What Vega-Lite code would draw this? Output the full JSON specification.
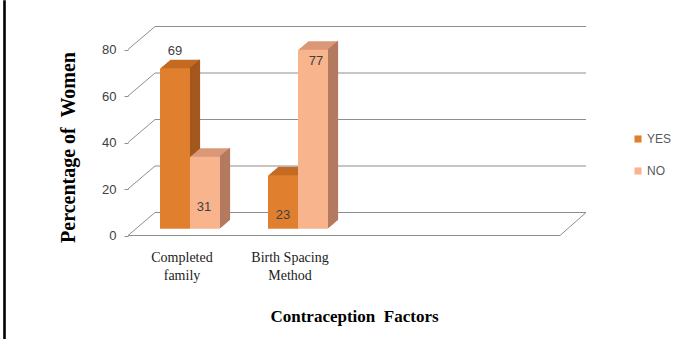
{
  "$schema": "https://vega.github.io/schema/vega-lite/v6.json",
  "padding": {"left": 3, "top": 0, "right": 0, "bottom": 0},
  "background": "white",
  "bounds": "flush",
  "spacing": 123,
  "config": {"view": {"stroke": null}},
  "datasets": {
    "bars": [
      {"factor": "Completed family", "response": "YES", "value": 69},
      {"factor": "Completed family", "response": "NO", "value": 31},
      {"factor": "Birth Spacing Method", "response": "YES", "value": 23},
      {"factor": "Birth Spacing Method", "response": "NO", "value": 77}
    ],
    "ticks": [{"value": 0}, {"value": 20}, {"value": 40}, {"value": 60}, {"value": 80}]
  },
  "hconcat": [
    {
      "width": 1,
      "height": 339,
      "view": {"stroke": "#000000", "strokeWidth": 1.6},
      "data": {"values": []},
      "mark": {"type": "point", "opacity": 0},
      "encoding": {}
    },
    {
      "width": 432,
      "height": 234,
      "data": {"name": "bars"},
      "encoding": {
        "x": {
          "field": "factor",
          "type": "nominal",
          "scale": {"domain": ["Completed family", "Birth Spacing Method"], "paddingInner": 0, "paddingOuter": 1, "align": 0},
          "axis": {
            "title": "Contraception\u00a0 Factors",
            "titleFont": "Liberation Serif",
            "titleFontSize": 17,
            "titleFontWeight": "bold",
            "titleColor": "#000000",
            "titleX": 226,
            "titleY": 81,
            "titleBaseline": "middle",
            "labelFont": "Liberation Serif",
            "labelFontSize": 14,
            "labelColor": "#222222",
            "labelAngle": 0,
            "labelPadding": 15,
            "labelBaseline": "top",
            "labelLineHeight": 18,
            "labelExpr": "datum.value == 'Completed family' ? ['Completed', 'family'] : ['Birth Spacing', 'Method']",
            "domain": false,
            "ticks": false,
            "grid": false
          }
        },
        "y": {
          "field": "value",
          "type": "quantitative",
          "scale": {"domain": [0, 80], "range": [234.5, 48.5], "nice": false, "zero": true},
          "axis": {
            "title": "Percentage of\u00a0 Women",
            "titleFont": "Liberation Serif",
            "titleFontSize": 20,
            "titleFontWeight": "bold",
            "titleColor": "#000000",
            "titleX": -60,
            "titleY": 146,
            "titleBaseline": "middle",
            "values": [0, 20, 40, 60, 80],
            "labelFont": "Liberation Sans",
            "labelFontSize": 13,
            "labelColor": "#404040",
            "labelPadding": 8,
            "tickSize": 4,
            "tickColor": "#8e8e8e",
            "domain": false,
            "grid": false
          }
        }
      },
      "layer": [
        {"data": {"name": "ticks"}, "mark": {"type": "rule", "color": "#8e8e8e", "strokeWidth": 1, "xOffset": -27, "x2Offset": 404, "yOffset": -23}, "encoding": {"x": {"datum": "Completed family"}, "x2": {"datum": "Completed family"}}},
        {"data": {"name": "ticks"}, "mark": {"type": "rule", "color": "#8e8e8e", "strokeWidth": 1, "xOffset": -54, "x2Offset": -27, "y2Offset": -23}, "encoding": {"x": {"datum": "Completed family"}, "x2": {"datum": "Completed family"}, "y2": {"field": "value"}}},
        {"data": {"name": "ticks"}, "transform": [{"filter": "datum.value === 0"}], "mark": {"type": "rule", "color": "#8e8e8e", "strokeWidth": 1, "xOffset": -54, "x2Offset": 378}, "encoding": {"x": {"datum": "Completed family"}, "x2": {"datum": "Completed family"}}},
        {"data": {"name": "ticks"}, "transform": [{"filter": "datum.value === 0"}], "mark": {"type": "rule", "color": "#8e8e8e", "strokeWidth": 1, "xOffset": 378, "x2Offset": 404, "y2Offset": -23}, "encoding": {"x": {"datum": "Completed family"}, "x2": {"datum": "Completed family"}, "y2": {"field": "value"}}},

        {"transform": [{"filter": "datum.response === 'YES'"}], "mark": {"type": "bar", "width": 30, "color": "#C46A22", "xOffset": -6, "yOffset": -7.65, "y2Offset": -7.65}},
        {"transform": [{"filter": "datum.response === 'YES'"}], "mark": {"type": "bar", "width": 30, "color": "#C46A22", "xOffset": -5, "yOffset": -8.5, "y2Offset": -8.5}},
        {"transform": [{"filter": "datum.response === 'YES'"}], "mark": {"type": "bar", "width": 30, "color": "#C46A22", "xOffset": -4, "yOffset": -9.35, "y2Offset": -9.35}},
        {"transform": [{"filter": "datum.response === 'YES'"}], "mark": {"type": "bar", "width": 30, "color": "#C46A22", "xOffset": -3, "yOffset": -10.2, "y2Offset": -10.2}},
        {"transform": [{"filter": "datum.response === 'YES'"}], "mark": {"type": "bar", "width": 30, "color": "#C46A22", "xOffset": -2, "yOffset": -11.05, "y2Offset": -11.05}},
        {"transform": [{"filter": "datum.response === 'YES'"}], "mark": {"type": "bar", "width": 30, "color": "#C46A22", "xOffset": -1, "yOffset": -11.9, "y2Offset": -11.9}},
        {"transform": [{"filter": "datum.response === 'YES'"}], "mark": {"type": "bar", "width": 30, "color": "#C46A22", "xOffset": 0, "yOffset": -12.75, "y2Offset": -12.75}},
        {"transform": [{"filter": "datum.response === 'YES'"}], "mark": {"type": "bar", "width": 30, "color": "#C46A22", "xOffset": 1, "yOffset": -13.6, "y2Offset": -13.6}},
        {"transform": [{"filter": "datum.response === 'YES'"}], "mark": {"type": "bar", "width": 30, "color": "#C46A22", "xOffset": 2, "yOffset": -14.45, "y2Offset": -14.45}},
        {"transform": [{"filter": "datum.response === 'YES'"}], "mark": {"type": "bar", "width": 30, "color": "#C46A22", "xOffset": 3, "yOffset": -15.3, "y2Offset": -15.3}},
        {"transform": [{"filter": "datum.response === 'YES'"}], "mark": {"type": "bar", "width": 1.2, "color": "#A5581D", "xOffset": 8.5, "yOffset": -7.65, "y2Offset": -7.65}},
        {"transform": [{"filter": "datum.response === 'YES'"}], "mark": {"type": "bar", "width": 1.2, "color": "#A5581D", "xOffset": 9.5, "yOffset": -8.5, "y2Offset": -8.5}},
        {"transform": [{"filter": "datum.response === 'YES'"}], "mark": {"type": "bar", "width": 1.2, "color": "#A5581D", "xOffset": 10.5, "yOffset": -9.35, "y2Offset": -9.35}},
        {"transform": [{"filter": "datum.response === 'YES'"}], "mark": {"type": "bar", "width": 1.2, "color": "#A5581D", "xOffset": 11.5, "yOffset": -10.2, "y2Offset": -10.2}},
        {"transform": [{"filter": "datum.response === 'YES'"}], "mark": {"type": "bar", "width": 1.2, "color": "#A5581D", "xOffset": 12.5, "yOffset": -11.05, "y2Offset": -11.05}},
        {"transform": [{"filter": "datum.response === 'YES'"}], "mark": {"type": "bar", "width": 1.2, "color": "#A5581D", "xOffset": 13.5, "yOffset": -11.9, "y2Offset": -11.9}},
        {"transform": [{"filter": "datum.response === 'YES'"}], "mark": {"type": "bar", "width": 1.2, "color": "#A5581D", "xOffset": 14.5, "yOffset": -12.75, "y2Offset": -12.75}},
        {"transform": [{"filter": "datum.response === 'YES'"}], "mark": {"type": "bar", "width": 1.2, "color": "#A5581D", "xOffset": 15.5, "yOffset": -13.6, "y2Offset": -13.6}},
        {"transform": [{"filter": "datum.response === 'YES'"}], "mark": {"type": "bar", "width": 1.2, "color": "#A5581D", "xOffset": 16.5, "yOffset": -14.45, "y2Offset": -14.45}},
        {"transform": [{"filter": "datum.response === 'YES'"}], "mark": {"type": "bar", "width": 1.2, "color": "#A5581D", "xOffset": 17.5, "yOffset": -15.3, "y2Offset": -15.3}},
        {
          "transform": [{"filter": "datum.response === 'YES'"}],
          "mark": {"type": "bar", "width": 30, "xOffset": -7, "yOffset": -6.8, "y2Offset": -6.8},
          "encoding": {
            "color": {
              "field": "response", "type": "nominal",
              "scale": {"domain": ["YES", "NO"], "range": ["#E0802F", "#F8B48C"]},
              "legend": {"title": null, "orient": "none", "legendX": 628, "legendY": 132, "symbolType": "square", "symbolSize": 50, "symbolStrokeWidth": 0, "labelFont": "Liberation Sans", "labelFontSize": 12, "labelColor": "#595959", "rowPadding": 20, "labelOffset": 3, "padding": 0}
            }
          }
        },

        {"transform": [{"filter": "datum.response === 'NO'"}], "mark": {"type": "bar", "width": 30, "color": "#DA9878", "xOffset": 24, "yOffset": -7.65, "y2Offset": -7.65}},
        {"transform": [{"filter": "datum.response === 'NO'"}], "mark": {"type": "bar", "width": 30, "color": "#DA9878", "xOffset": 25, "yOffset": -8.5, "y2Offset": -8.5}},
        {"transform": [{"filter": "datum.response === 'NO'"}], "mark": {"type": "bar", "width": 30, "color": "#DA9878", "xOffset": 26, "yOffset": -9.35, "y2Offset": -9.35}},
        {"transform": [{"filter": "datum.response === 'NO'"}], "mark": {"type": "bar", "width": 30, "color": "#DA9878", "xOffset": 27, "yOffset": -10.2, "y2Offset": -10.2}},
        {"transform": [{"filter": "datum.response === 'NO'"}], "mark": {"type": "bar", "width": 30, "color": "#DA9878", "xOffset": 28, "yOffset": -11.05, "y2Offset": -11.05}},
        {"transform": [{"filter": "datum.response === 'NO'"}], "mark": {"type": "bar", "width": 30, "color": "#DA9878", "xOffset": 29, "yOffset": -11.9, "y2Offset": -11.9}},
        {"transform": [{"filter": "datum.response === 'NO'"}], "mark": {"type": "bar", "width": 30, "color": "#DA9878", "xOffset": 30, "yOffset": -12.75, "y2Offset": -12.75}},
        {"transform": [{"filter": "datum.response === 'NO'"}], "mark": {"type": "bar", "width": 30, "color": "#DA9878", "xOffset": 31, "yOffset": -13.6, "y2Offset": -13.6}},
        {"transform": [{"filter": "datum.response === 'NO'"}], "mark": {"type": "bar", "width": 30, "color": "#DA9878", "xOffset": 32, "yOffset": -14.45, "y2Offset": -14.45}},
        {"transform": [{"filter": "datum.response === 'NO'"}], "mark": {"type": "bar", "width": 30, "color": "#DA9878", "xOffset": 33, "yOffset": -15.3, "y2Offset": -15.3}},
        {"transform": [{"filter": "datum.response === 'NO'"}], "mark": {"type": "bar", "width": 1.2, "color": "#B47A60", "xOffset": 38.5, "yOffset": -7.65, "y2Offset": -7.65}},
        {"transform": [{"filter": "datum.response === 'NO'"}], "mark": {"type": "bar", "width": 1.2, "color": "#B47A60", "xOffset": 39.5, "yOffset": -8.5, "y2Offset": -8.5}},
        {"transform": [{"filter": "datum.response === 'NO'"}], "mark": {"type": "bar", "width": 1.2, "color": "#B47A60", "xOffset": 40.5, "yOffset": -9.35, "y2Offset": -9.35}},
        {"transform": [{"filter": "datum.response === 'NO'"}], "mark": {"type": "bar", "width": 1.2, "color": "#B47A60", "xOffset": 41.5, "yOffset": -10.2, "y2Offset": -10.2}},
        {"transform": [{"filter": "datum.response === 'NO'"}], "mark": {"type": "bar", "width": 1.2, "color": "#B47A60", "xOffset": 42.5, "yOffset": -11.05, "y2Offset": -11.05}},
        {"transform": [{"filter": "datum.response === 'NO'"}], "mark": {"type": "bar", "width": 1.2, "color": "#B47A60", "xOffset": 43.5, "yOffset": -11.9, "y2Offset": -11.9}},
        {"transform": [{"filter": "datum.response === 'NO'"}], "mark": {"type": "bar", "width": 1.2, "color": "#B47A60", "xOffset": 44.5, "yOffset": -12.75, "y2Offset": -12.75}},
        {"transform": [{"filter": "datum.response === 'NO'"}], "mark": {"type": "bar", "width": 1.2, "color": "#B47A60", "xOffset": 45.5, "yOffset": -13.6, "y2Offset": -13.6}},
        {"transform": [{"filter": "datum.response === 'NO'"}], "mark": {"type": "bar", "width": 1.2, "color": "#B47A60", "xOffset": 46.5, "yOffset": -14.45, "y2Offset": -14.45}},
        {"transform": [{"filter": "datum.response === 'NO'"}], "mark": {"type": "bar", "width": 1.2, "color": "#B47A60", "xOffset": 47.5, "yOffset": -15.3, "y2Offset": -15.3}},
        {
          "transform": [{"filter": "datum.response === 'NO'"}],
          "mark": {"type": "bar", "width": 30, "xOffset": 23, "yOffset": -6.8, "y2Offset": -6.8},
          "encoding": {
            "color": {
              "field": "response", "type": "nominal",
              "scale": {"domain": ["YES", "NO"], "range": ["#E0802F", "#F8B48C"]},
              "legend": {"title": null, "orient": "none", "legendX": 628, "legendY": 132, "symbolType": "square", "symbolSize": 50, "symbolStrokeWidth": 0, "labelFont": "Liberation Sans", "labelFontSize": 12, "labelColor": "#595959", "rowPadding": 20, "labelOffset": 3, "padding": 0}
            }
          }
        },

        {"transform": [{"filter": "datum.factor === 'Completed family' && datum.response === 'YES'"}], "mark": {"type": "text", "font": "Liberation Sans", "fontSize": 13, "color": "#404040", "baseline": "middle", "dx": -7, "dy": -24}, "encoding": {"text": {"field": "value"}}},
        {"transform": [{"filter": "datum.factor === 'Completed family' && datum.response === 'NO'"}], "mark": {"type": "text", "font": "Liberation Sans", "fontSize": 13, "color": "#404040", "baseline": "middle", "dx": 22, "dy": 44}, "encoding": {"text": {"field": "value"}}},
        {"transform": [{"filter": "datum.factor === 'Birth Spacing Method' && datum.response === 'YES'"}], "mark": {"type": "text", "font": "Liberation Sans", "fontSize": 13, "color": "#404040", "baseline": "middle", "dx": -7, "dy": 33}, "encoding": {"text": {"field": "value"}}},
        {"transform": [{"filter": "datum.factor === 'Birth Spacing Method' && datum.response === 'NO'"}], "mark": {"type": "text", "font": "Liberation Sans", "fontSize": 13, "color": "#404040", "baseline": "middle", "dx": 26, "dy": 4.5}, "encoding": {"text": {"field": "value"}}}
      ]
    }
  ]
}
